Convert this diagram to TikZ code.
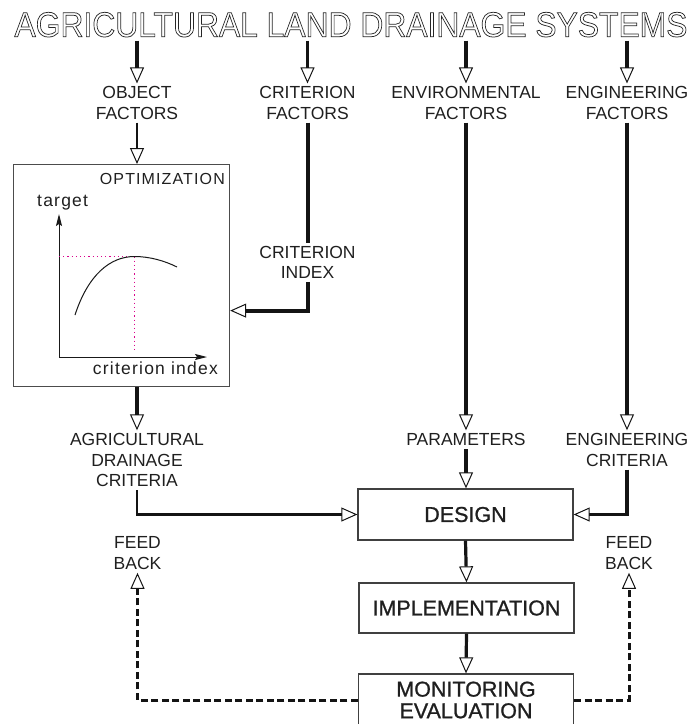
\documentclass[tikz,border=0pt]{standalone}
\usepackage{graphicx}
\usepackage{fontspec}
\setmainfont{Liberation Sans}
\newfontfamily\boxfont[FakeBold=1]{Liberation Sans}
\newfontfamily\plotfont[LetterSpace=7]{Liberation Sans}
\usetikzlibrary{arrows.meta}

% heading set as stroked (hollow) lettering
\newcommand\hollow[1]{\special{pdf:literal direct q 1 Tr 0.75 w 0.15 0.15 0.15 RG}#1\special{pdf:literal direct Q}}
\newcommand\titlestr{\scalebox{0.909}[1]{\hollow{AGRICULTURAL LAND DRAINAGE SYSTEMS}}}

\tikzset{
  titletext/.style={font=\fontsize{35}{35}\selectfont, inner sep=0pt, anchor=base},
  lbl/.style={font=\fontsize{17.5}{20.5}\selectfont, align=center, inner sep=3pt, text=black!88},
  flowbox/.style={draw=black!75, line width=1.3pt, font=\boxfont\fontsize{21.5}{21.6}\selectfont,
                  minimum width=215pt, inner sep=0pt, align=center, text=black!88},
  opentip/.style={-{Triangle[open,length=16pt,width=14pt,line width=1pt]}, draw=black!92},
  heavy/.style={opentip, line width=4pt},
  medium/.style={opentip, line width=3.2pt},
  light/.style={opentip, line width=2.3pt},
  feedline/.style={opentip, line width=3pt, dash pattern=on 7pt off 3.5pt},
  axis/.style={line width=1pt, draw=black!90, -{Stealth[length=12pt,width=6pt,inset=2pt]}},
  guide/.style={draw=magenta!90!blue, line width=1.1pt, dash pattern=on 1.2pt off 3pt},
  plottext/.style={font=\plotfont\fontsize{17.5}{20}\selectfont, inner sep=0pt, text=black!88}
}

\begin{document}
\begin{tikzpicture}[x=1pt, y=-1pt]
\useasboundingbox (0,0) rectangle (697,724);

\node[titletext] (title) at (351,36.7) {\titlestr};

% factor groups
\node[lbl, anchor=north] (objf)  at (137,83.4)   {OBJECT\\FACTORS};
\node[lbl, anchor=north] (critf) at (307.5,83.4) {CRITERION\\FACTORS};
\node[lbl, anchor=north] (envf)  at (466,83.4)   {ENVIRONMENTAL\\FACTORS};
\node[lbl, anchor=north] (engf)  at (627,83.4)   {ENGINEERING\\FACTORS};

\foreach \n in {objf,critf,envf,engf}
  \draw[medium, shorten <=3.3pt] (\n.north |- title.south) -- (\n.north);

% optimization panel
\node[draw=black!70, line width=1.2pt, minimum width=216pt, minimum height=222pt,
      inner sep=0pt, anchor=north west] (opt) at (13,164) {};
\node[plottext, anchor=base east, font=\plotfont\fontsize{16}{18}\selectfont] (optt) at (225,184) {OPTIMIZATION};
\node[plottext, anchor=base west] (tgt) at (37,206) {target};
\node[plottext, anchor=base east] (cix) at (218,374.5) {criterion index};
\coordinate (orig) at (59,357);
\coordinate (ytop) at (59,214);
\coordinate (xend) at (207,357);
\coordinate (peak) at (134.5,256.5);
\draw[axis] (orig) -- (ytop);
\draw[axis] (orig) -- (xend);
\draw[guide] (orig |- peak) -- (peak);
\draw[guide] (peak) -- (peak |- 0,349);
\draw[line width=1pt, black!90] (75,315) .. controls (88,275) and (110,256.5) .. (peak)
      .. controls (150,256.5) and (165,261) .. (177,267);

\draw[light] (objf.south) -- (objf.south |- opt.north);

% criterion index feeding the optimization
\node[lbl, anchor=north] (critidx) at (307.5,242.7) {CRITERION\\INDEX};
\draw[heavy, -] (critf.south) -- (critidx.north);
\draw[heavy] (critidx.south) |- ([yshift=-35pt]opt.east);

% outputs towards design
\node[lbl, anchor=north] (agr)    at (137,430.3) {AGRICULTURAL\\DRAINAGE\\CRITERIA};
\node[lbl, anchor=north] (params) at (466,430.3) {PARAMETERS};
\node[lbl, anchor=north] (engc)   at (627,430.3) {ENGINEERING\\CRITERIA};

\draw[medium] (agr.north |- opt.south) -- (agr.north);
\draw[heavy] (envf.south) -- (params.north);
\draw[heavy] (engf.south) -- (engc.north);

\node[flowbox, minimum height=51pt] (design) at (465.5,514.5) {DESIGN};
\node[flowbox, minimum height=50pt] (impl)   at (466.5,608)   {IMPLEMENTATION};
\node[flowbox, minimum height=52pt] (mon)    at (466,700)     {MONITORING\\EVALUATION};

\draw[light] (agr.south) |- (design.west);
\draw[medium] (params.south) -- (params.south |- design.north);
\draw[medium] (engc.south) |- (design.east);
\draw[medium] (design.south) -- (impl.north);
\draw[medium] (impl.south) -- (mon.north);

% feedback loops
\node[lbl, anchor=north] (fbl) at (137.5,533.7) {FEED\\BACK};
\node[lbl, anchor=north] (fbr) at (629,533.7)   {FEED\\BACK};
\draw[feedline] (mon.west) -| (fbl.south);
\draw[feedline] (mon.east) -| (fbr.south);
\end{tikzpicture}
\end{document}
